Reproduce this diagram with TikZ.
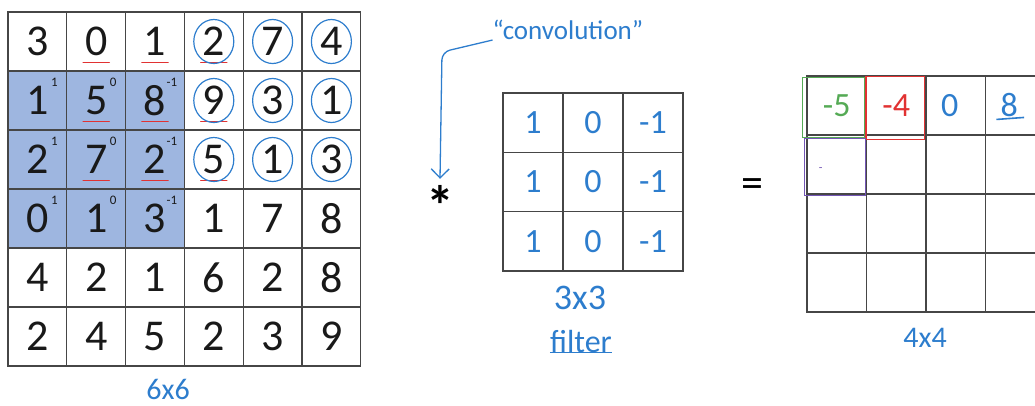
\documentclass[tikz,border=0pt]{standalone}
\usepackage{fontspec}
\setmainfont{Carlito}
\usetikzlibrary{arrows.meta}
\definecolor{gridgray}{RGB}{70,70,70}
\definecolor{inkblack}{RGB}{25,25,25}
\definecolor{windowblue}{RGB}{158,182,224}
\definecolor{handblue}{RGB}{45,125,205}
\definecolor{markred}{RGB}{225,50,50}
\definecolor{markgreen}{RGB}{85,170,85}
\definecolor{markpurple}{RGB}{115,85,180}
\tikzset{
  incell/.style={draw=gridgray, line width=1.3pt, minimum width=58.8pt,
    minimum height=59pt, inner sep=0pt, text=inkblack,
    font=\fontsize{44}{44}\selectfont},
  filtcell/.style={incell, minimum width=60pt, minimum height=59.3pt,
    text=handblue, font=\fontsize{34}{34}\selectfont},
  outcell/.style={incell, minimum width=59.5pt},
  weight/.style={text=inkblack, font=\fontsize{13}{13}\selectfont, inner sep=0pt},
  hand/.style={text=handblue, inner sep=0pt},
  ring/.style={handblue, line width=1.2pt},
  underline red/.style={markred, line width=1.6pt, line cap=round},
  hand arrow/.style={handblue, line width=1.3pt, rounded corners=8pt,
    -{Straight Barb[length=9pt, width=18pt]}}
}
\begin{document}
\begin{tikzpicture}[x=1pt, y=-1pt]
  \useasboundingbox (0,0) rectangle (1035,405);
  \clip (0,0) rectangle (1035,405);
  % 6x6 input, filter laid on its corner
  \fill[windowblue] (8,71) rectangle (184.4,248);
  \foreach \row [count=\r from 0] in {{3,0,1,2,7,4},{1,5,8,9,3,1},
      {2,7,2,5,1,3},{0,1,3,1,7,8},{4,2,1,6,2,8},{2,4,5,2,3,9}}
    \foreach \v [count=\c from 0] in \row
      \node[incell] (in-\r-\c) at (37.4+\c*58.8, 41.5+\r*59) {\v};
  \foreach \c/\w in {0/1, 1/0, 2/-1}
    \foreach \r in {1,2,3}
      \node[weight] at ([shift={(17pt,18pt)}]in-\r-\c.center) {\w};
  % next window: underlined, and the entries still to come
  \foreach \r in {0,1,2}
    \foreach \c in {1,2,3}
      \draw[underline red] ([shift={(-13pt,-21pt)}]in-\r-\c.center) -- ++(26pt,0);
  \foreach \r in {0,1,2}
    \foreach \c in {3,4,5}
      \draw[ring] (in-\r-\c.center) ellipse [x radius=20pt, y radius=22pt];
  \node[hand, font=\fontsize{30}{30}\selectfont] (in-size) at (168,389) {6x6};
  % the operator
  \node[font=\bfseries\fontsize{56}{56}\selectfont, inner sep=0pt] (star) at (440,205) {*};
  \node[hand, font=\fontsize{27}{27}\selectfont] (conv) at (568,30) {“convolution”};
  \coordinate (turn) at (442,52);
  \draw[hand arrow] (conv.south west) -- (turn) -- ([yshift=6pt]star.north);
  % 3x3 filter
  \foreach \r in {0,1,2}
    \foreach \v [count=\c from 0] in {1,0,-1}
      \node[filtcell] (f-\r-\c) at (533+\c*60, 122.7+\r*59.3) {\v};
  \node[hand, font=\fontsize{36}{36}\selectfont] (f-size) at (580,298) {3x3};
  \node[hand, font=\fontsize{32}{32}\selectfont] (f-name) at (581,341) {filter};
  \draw[handblue, line width=1.6pt] (f-name.south west) -- (f-name.south east);
  \node[font=\fontsize{44}{44}\selectfont, inner sep=0pt] (equals) at (752,188) {=};
  % 4x4 output
  \foreach \r in {0,...,3}
    \foreach \c in {0,...,3}
      \node[outcell] (out-\r-\c) at (836.75+\c*59.5, 105.5+\r*59) {};
  \node[font=\fontsize{34}{34}\selectfont, text=markgreen] at (out-0-0) {-5};
  \node[font=\fontsize{34}{34}\selectfont, text=markred] at (out-0-1) {-4};
  \node[hand, font=\fontsize{34}{34}\selectfont] at ([xshift=-6pt]out-0-2.center) {0};
  \node[hand, font=\fontsize{34}{34}\selectfont] (eight) at ([xshift=-6pt]out-0-3.center) {8};
  \draw[handblue, line width=1.6pt] ([shift={(-4pt,-2pt)}]eight.south west) -- ([shift={(6pt,0pt)}]eight.south east);
  \draw[markgreen, line width=1.5pt] ([shift={(-4pt,-2pt)}]out-0-0.north west)
    rectangle ([shift={(-2.5pt,-2pt)}]out-0-0.south east);
  \draw[markred, line width=1.5pt] ([shift={(0pt,-1pt)}]out-0-1.north west)
    rectangle ([shift={(-2pt,-4pt)}]out-0-1.south east);
  \draw[markpurple, line width=1.5pt] ([shift={(-2pt,-4pt)}]out-1-0.north west)
    rectangle ([shift={(-1.5pt,-1pt)}]out-1-0.south east);
  \node[font=\fontsize{12}{12}\selectfont, text=markpurple] at ([shift={(-16pt,-5pt)}]out-1-0.center) {-};
  \node[hand, font=\fontsize{30}{30}\selectfont] (out-size) at (925,338) {4x4};
\end{tikzpicture}
\end{document}
